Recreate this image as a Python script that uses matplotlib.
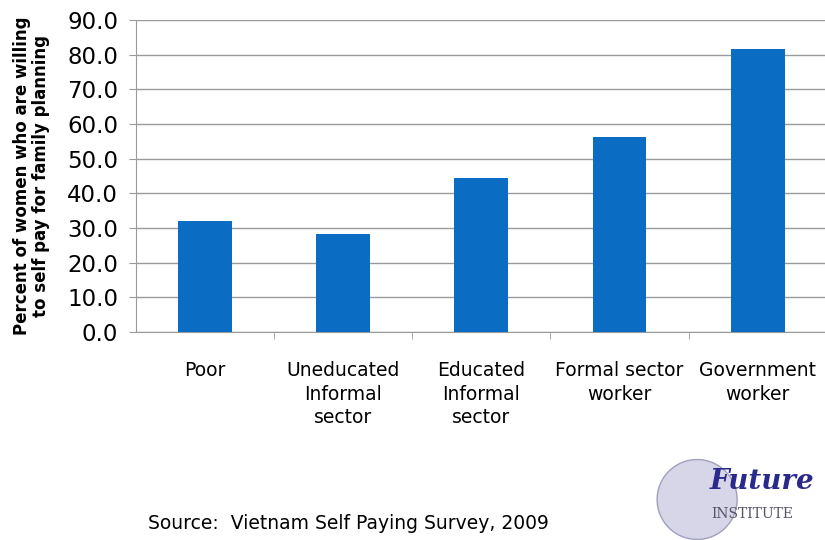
import matplotlib.pyplot as plt
from matplotlib.patches import Ellipse

# data
categories = ['Poor', 'Uneducated\nInformal\nsector', 'Educated\nInformal\nsector',
              'Formal sector\nworker', 'Government\nworker']
values = [32.1, 28.4, 44.5, 56.4, 81.6]
y_ticks = [0, 10, 20, 30, 40, 50, 60, 70, 80, 90]

fig = plt.figure(figsize=(8.25, 5.4), dpi=100)
ax = fig.add_axes([0.165, 0.385, 0.837, 0.578])

x = list(range(len(categories)))
ax.bar(x, values, width=0.39, color='#0a6cc2', zorder=3)

ax.set_xlim(-0.5, len(categories) - 0.5)
ax.set_ylim(0, 90)
ax.set_yticks(y_ticks)
ax.set_yticklabels([f'{v:.1f}' for v in y_ticks], fontsize=16.5)
ax.yaxis.grid(True, color='#9a9a9a', linewidth=1.0, zorder=0)

# category labels, ticks at boundaries
ax.set_xticks(x)
ax.set_xticklabels(categories, fontsize=13.5, linespacing=1.3, va='top')
ax.tick_params(axis='x', length=0, pad=21)
ax.set_xticks([i + 0.5 for i in range(len(categories) - 1)], minor=True)
ax.tick_params(axis='x', which='minor', length=5, color='#9a9a9a', direction='out')
ax.tick_params(axis='y', length=5, color='#9a9a9a', pad=8)

for side in ['top', 'right']:
    ax.spines[side].set_visible(False)
for side in ['left', 'bottom']:
    ax.spines[side].set_color('#9a9a9a')

ax.set_ylabel('Percent of women who are willing\nto self pay for family planning',
              fontsize=12, fontweight='bold', labelpad=12, linespacing=1.1)

fig.text(0.18, 0.02, 'Source:  Vietnam Self Paying Survey, 2009', fontsize=13.5)

# logo approximation
globe = Ellipse((0.845, 0.075), 0.097, 0.148, transform=fig.transFigure,
                facecolor='#d6d6e8', edgecolor='#a0a0bc', linewidth=1)
fig.patches.append(globe)
fig.text(0.86, 0.095, 'Future', fontsize=20, family='DejaVu Serif',
         style='italic', fontweight='bold', color='#2a2a8c')
fig.text(0.862, 0.04, 'INSTITUTE', fontsize=10, family='DejaVu Serif',
         color='#555566')

fig.savefig('out.png', dpi=100)
